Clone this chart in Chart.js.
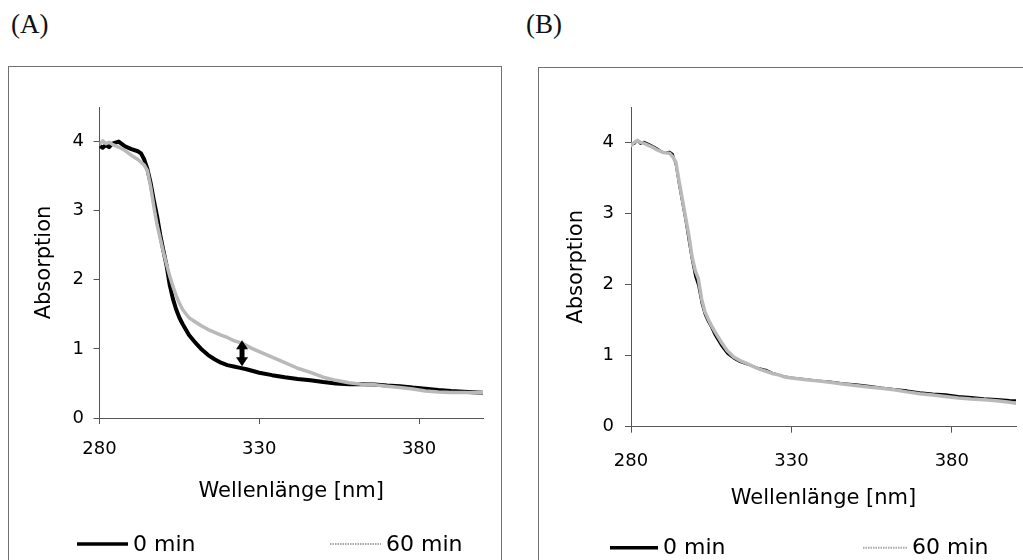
<!DOCTYPE html>
<html>
<head>
<meta charset="utf-8">
<script src="https://cdn.jsdelivr.net/npm/chart.js@4.4.0/dist/chart.umd.min.js"></script>
<style>
  html, body { margin: 0; padding: 0; background: #fff; overflow: hidden; width: 1023px; height: 560px; }
  .panel { position: absolute; border: 1px solid #707070; box-sizing: border-box; }
  .tag { position: absolute; font-family: "Liberation Serif", "DejaVu Serif", serif; font-size: 27px; line-height: 1; color: #111; }
  canvas { position: absolute; }
</style>
</head>
<body>
<div class="tag" style="left:11px;top:11px">(A)</div>
<div class="tag" style="left:526px;top:11px">(B)</div>
<div class="panel" style="left:8px;top:66px;width:494px;height:560px"></div>
<div class="panel" style="left:538px;top:67px;width:540px;height:560px"></div>
<canvas id="chartA" width="493" height="500" style="left:9px;top:67px"></canvas>
<canvas id="chartB" width="484" height="500" style="left:539px;top:68px"></canvas>
<script>
// Wavelength grid (nm) shared by all spectra
const wavelengths = [280, 281, 282, 283, 284, 286, 288, 290, 292, 293, 294, 295, 296, 297, 298, 299, 300, 301, 302, 303, 304, 305, 306,
  308, 310, 312, 314, 316, 318, 320, 322, 324, 326, 328, 330,
  334, 338, 342, 346, 350, 354, 358, 362, 366, 370, 374, 378, 382, 386, 390, 394, 398, 400];

// Panel A: absorption spectra at 0 min and 60 min
const absA0 = [3.94, 3.91, 3.95, 3.92, 3.97, 4.0, 3.93, 3.89, 3.86, 3.83, 3.74, 3.6, 3.4, 3.15, 2.92, 2.65, 2.42, 2.2, 1.92, 1.72, 1.57, 1.45, 1.36,
  1.2, 1.09, 0.99, 0.91, 0.85, 0.8, 0.765, 0.745, 0.725, 0.705, 0.68, 0.655,
  0.62, 0.59, 0.565, 0.545, 0.52, 0.5, 0.49, 0.49, 0.485, 0.47, 0.46, 0.44, 0.425, 0.405, 0.39, 0.38, 0.37, 0.365];
const absA60 = [3.96, 4.01, 3.97, 3.99, 3.96, 3.92, 3.87, 3.8, 3.74, 3.7, 3.66, 3.58, 3.35, 3.06, 2.8, 2.6, 2.4, 2.22, 2.05, 1.9, 1.77, 1.66, 1.57,
  1.45, 1.39, 1.33, 1.28, 1.24, 1.2, 1.165, 1.12, 1.09, 1.05, 1.0, 0.96,
  0.88, 0.8, 0.72, 0.66, 0.59, 0.545, 0.51, 0.49, 0.48, 0.46, 0.44, 0.42, 0.39, 0.375, 0.37, 0.37, 0.365, 0.365];

// Panel B: absorption spectra at 0 min and 60 min
const absB0 = [3.97, 3.98, 4.03, 3.98, 4.01, 3.97, 3.92, 3.86, 3.87, 3.84, 3.68, 3.4, 3.15, 2.9, 2.62, 2.35, 2.12, 1.98, 1.74, 1.58, 1.48, 1.4, 1.3,
  1.15, 1.03, 0.96, 0.91, 0.88, 0.85, 0.82, 0.8, 0.76, 0.73, 0.705, 0.69,
  0.67, 0.65, 0.635, 0.61, 0.595, 0.575, 0.55, 0.53, 0.51, 0.485, 0.465, 0.455, 0.43, 0.415, 0.4, 0.39, 0.375, 0.37];
const absB60 = [3.96, 4.0, 4.03, 4.0, 3.99, 3.95, 3.9, 3.86, 3.85, 3.8, 3.72, 3.45, 3.2, 2.95, 2.7, 2.4, 2.2, 2.08, 1.8, 1.62, 1.52, 1.43, 1.35,
  1.2, 1.07, 0.98, 0.93, 0.89, 0.85, 0.81, 0.78, 0.75, 0.73, 0.7, 0.685,
  0.665, 0.645, 0.625, 0.6, 0.58, 0.56, 0.54, 0.52, 0.49, 0.465, 0.445, 0.425, 0.405, 0.39, 0.38, 0.365, 0.345, 0.33];

const seriesLabels = ['0 min', '60 min'];
const xTickValues = [280, 330, 380];
const yTickValues = [0, 1, 2, 3, 4];
const xAxisTitle = 'Wellenlänge [nm]';
const yAxisTitle = 'Absorption';

// Double arrow in panel A marking the increase at 325 nm
const arrowA = { wavelength: 324.6, from: 0.75, to: 1.125 };

Chart.defaults.font.family = "'DejaVu Sans', sans-serif";
Chart.defaults.color = '#000';

const BLACK = '#000000';
const GREY = '#b9b9b9';

function toPoints(values) {
  return wavelengths.map((w, i) => ({ x: w, y: values[i] }));
}

// Legend drawn as a row under the axis title: each entry is a short line plus its label
const legendRow = {
  id: 'legendRow',
  afterDraw(chart, args, opts) {
    const { ctx, chartArea } = chart;
    const y = chartArea.bottom + opts.offsetY;
    ctx.save();
    chart.data.datasets.forEach((ds, i) => {
      const x0 = chartArea.left + opts.starts[i];
      const x1 = x0 + opts.lineLen[i];
      ctx.beginPath();
      ctx.strokeStyle = ds.legendColor;
      ctx.lineWidth = ds.legendWidth;
      ctx.setLineDash(ds.legendDash || []);
      ctx.moveTo(x0, y);
      ctx.lineTo(x1, y);
      ctx.stroke();
      ctx.setLineDash([]);
      ctx.fillStyle = '#000';
      ctx.font = "22px 'DejaVu Sans', sans-serif";
      ctx.textBaseline = 'middle';
      ctx.textAlign = 'left';
      ctx.fillText(ds.label, x1 + 5, y + 1);
    });
    ctx.restore();
  }
};

// Double-headed arrow positioned through the chart's scales
const doubleArrow = {
  id: 'doubleArrow',
  afterDatasetsDraw(chart, args, opts) {
    if (!opts.arrow) return;
    const { ctx } = chart;
    const xs = chart.scales.x, ys = chart.scales.y;
    const x = xs.getPixelForValue(opts.arrow.wavelength);
    const yTop = ys.getPixelForValue(opts.arrow.to);
    const yBot = ys.getPixelForValue(opts.arrow.from);
    const head = 9, half = 6;
    ctx.save();
    ctx.fillStyle = BLACK;
    ctx.strokeStyle = BLACK;
    ctx.lineWidth = 5;
    ctx.beginPath();
    ctx.moveTo(x, yTop + head - 1);
    ctx.lineTo(x, yBot - head + 1);
    ctx.stroke();
    ctx.beginPath();
    ctx.moveTo(x, yTop);
    ctx.lineTo(x - half, yTop + head);
    ctx.lineTo(x + half, yTop + head);
    ctx.closePath();
    ctx.fill();
    ctx.beginPath();
    ctx.moveTo(x, yBot);
    ctx.lineTo(x - half, yBot - head);
    ctx.lineTo(x + half, yBot - head);
    ctx.closePath();
    ctx.fill();
    ctx.restore();
  }
};

function makeChart(id, values0, values60, cfg) {
  return new Chart(document.getElementById(id), {
    type: 'line',
    data: {
      datasets: [
        {
          label: seriesLabels[0],
          data: toPoints(values0),
          order: 1,
          borderColor: BLACK,
          borderWidth: cfg.blackWidth,
          pointRadius: 0,
          tension: 0,
          borderJoinStyle: 'round',
          borderCapStyle: 'round',
          legendColor: BLACK,
          legendWidth: 3.5
        },
        {
          label: seriesLabels[1],
          data: toPoints(values60),
          order: 0,
          borderColor: GREY,
          borderWidth: 3.5,
          pointRadius: 0,
          tension: 0,
          borderJoinStyle: 'round',
          borderCapStyle: 'round',
          legendColor: '#a8a8a8',
          legendWidth: 2,
          legendDash: [1.5, 1]
        }
      ]
    },
    options: {
      responsive: false,
      animation: false,
      events: [],
      layout: { padding: cfg.padding },
      plugins: {
        legend: { display: false },
        tooltip: { enabled: false },
        legendRow: cfg.legend,
        doubleArrow: { arrow: cfg.arrow || null }
      },
      scales: {
        x: {
          type: 'linear',
          min: 280,
          max: 400,
          afterBuildTicks(scale) { scale.ticks = xTickValues.map(v => ({ value: v })); },
          afterFit(scale) { scale.height = cfg.xHeight; },
          ticks: { padding: cfg.xTickPad, font: { size: 18 }, color: '#000', maxRotation: 0, autoSkip: false },
          grid: { drawOnChartArea: false, drawTicks: true, tickLength: 6, color: '#555', lineWidth: 1 },
          border: { display: true, color: '#555', width: 1 },
          title: { display: true, text: xAxisTitle, font: { size: 21 }, color: '#000', padding: { top: 0, bottom: 0 } }
        },
        y: {
          min: 0,
          max: 4.5,
          afterBuildTicks(scale) { scale.ticks = yTickValues.map(v => ({ value: v })); },
          afterFit(scale) { scale.width = cfg.yWidth; },
          ticks: { padding: cfg.yTickPad, font: { size: 18 }, color: '#000', autoSkip: false },
          grid: { drawOnChartArea: false, drawTicks: true, tickLength: 6, color: '#555', lineWidth: 1 },
          border: { display: true, color: '#555', width: 1 },
          title: { display: true, text: yAxisTitle, font: { size: 21 }, color: '#000', padding: { top: cfg.yTitlePad, bottom: 0 } }
        }
      }
    },
    plugins: [legendRow, doubleArrow]
  });
}

makeChart('chartA', absA0, absA60, {
  blackWidth: 4,
  padding: { left: 0, right: 19, top: 40, bottom: 63 },
  xHeight: 86,
  yWidth: 90.5,
  xTickPad: 15,
  yTickPad: 9.5,
  yTitlePad: 22.8,
  legend: { offsetY: 126, starts: [-22.5, 230.5], lineLen: [51, 51] },
  arrow: arrowA
});

makeChart('chartB', absB0, absB60, {
  blackWidth: 2.2,
  padding: { left: 0, right: 7, top: 39, bottom: 56.5 },
  xHeight: 84.8,
  yWidth: 92,
  xTickPad: 17.7,
  yTickPad: 11,
  yTitlePad: 24.8,
  legend: { offsetY: 121, starts: [-21, 232], lineLen: [48, 44] }
});
</script>
</body>
</html>
